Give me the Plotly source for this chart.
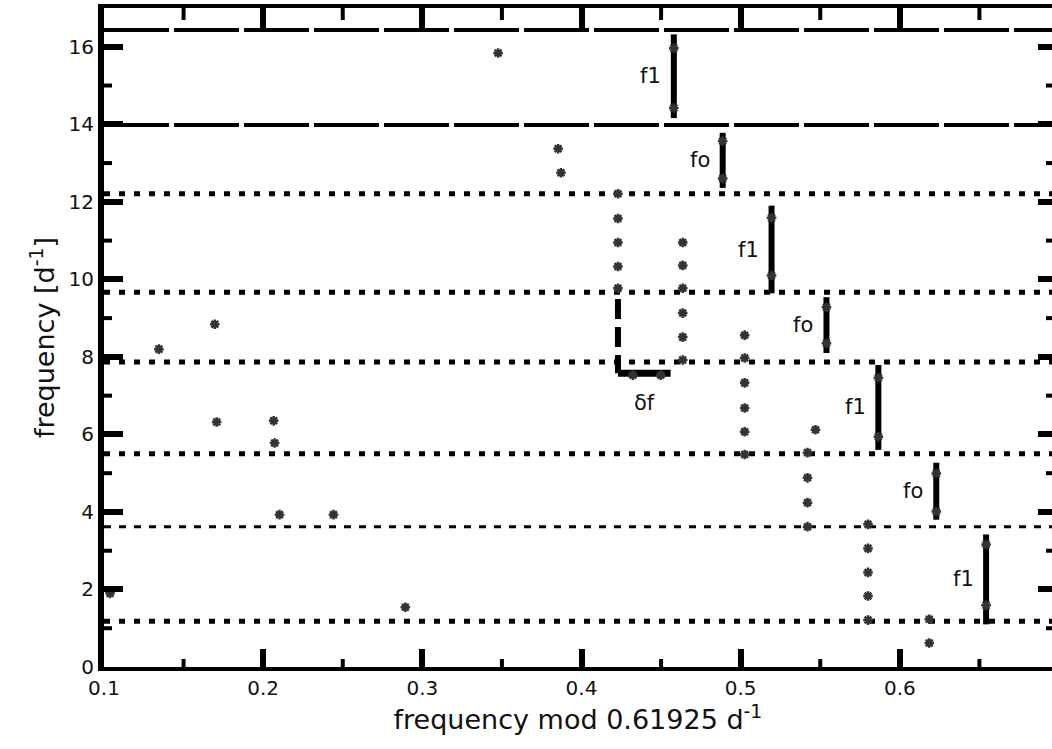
import plotly.graph_objects as go

# ---------------- data ----------------
point_x = [0.1038, 0.1345, 0.1696, 0.1708, 0.2066, 0.2072, 0.2103, 0.2442, 0.2893,
           0.3476, 0.3853, 0.3871,
           0.4229, 0.4229, 0.4229, 0.4229, 0.4229,
           0.4323, 0.4498,
           0.4636, 0.4636, 0.4636, 0.4636, 0.4636, 0.4636,
           0.5025, 0.5025, 0.5025, 0.5025, 0.5025, 0.5025,
           0.5420, 0.5420, 0.5420, 0.5420, 0.5470,
           0.5800, 0.5800, 0.5800, 0.5800, 0.5800,
           0.6185, 0.6185,
           0.4580, 0.4580, 0.4887, 0.4887, 0.5194, 0.5194, 0.5539, 0.5539,
           0.5865, 0.5865, 0.6229, 0.6229, 0.6542, 0.6542]
point_y = [1.90, 8.20, 8.84, 6.32, 6.35, 5.78, 3.93, 3.93, 1.54,
           15.84, 13.37, 12.75,
           12.21, 11.57, 10.95, 10.33, 9.77,
           7.53, 7.53,
           10.95, 10.36, 9.77, 9.13, 8.51, 7.92,
           8.56, 7.97, 7.33, 6.68, 6.07, 5.48,
           5.53, 4.88, 4.24, 3.62, 6.12,
           3.68, 3.06, 2.44, 1.83, 1.21,
           1.23, 0.62,
           15.96, 14.42, 13.57, 12.60, 11.59, 10.10, 9.28, 8.35,
           7.46, 5.94, 4.99, 4.01, 3.16, 1.59]

# horizontal reference lines
hline_y = [1.18, 3.62, 5.50, 7.87, 9.67, 12.21, 13.98, 16.43]
hline_kind = ["dot", "dash", "dot", "dot", "dot", "dot", "long", "long"]

# arrows (spacings f1 / fo)
arrow_x = [0.4580, 0.4887, 0.5194, 0.5539, 0.5865, 0.6229, 0.6542]
arrow_lo = [14.16, 12.36, 9.64, 8.10, 5.60, 3.80, 1.10]
arrow_hi = [16.32, 13.78, 11.90, 9.54, 7.79, 5.27, 3.42]
arrow_label = ["f1", "fo", "f1", "fo", "f1", "fo", "f1"]

# delta-f bracket
bracket_x0, bracket_x1 = 0.4229, 0.4560
bracket_top, bracket_y = 9.49, 7.58
bracket_label = "δf"

x_major = [0.1, 0.2, 0.3, 0.4, 0.5, 0.6]
x_minor = [0.15, 0.25, 0.35, 0.45, 0.55, 0.65]
y_major = [0, 2, 4, 6, 8, 10, 12, 14, 16]
y_minor = [1, 3, 5, 7, 9, 11, 13, 15]

FONT = "DejaVu Sans"
INK = "#111111"

W, H = 1052, 749
ML, MR, MT, MB = 104, 0, 8, 82
XR = [0.1, 0.6956]
YR = [0, 17.0]
# pixel -> data conversion for minor tick lengths
px_x = (XR[1] - XR[0]) / (W - ML - MR)
px_y = (YR[1] - YR[0]) / (H - MT - MB)

fig = go.Figure()

# arrows
for xa, lo, hi in zip(arrow_x, arrow_lo, arrow_hi):
    fig.add_trace(go.Scatter(x=[xa, xa], y=[lo, hi], mode="lines",
                             line=dict(color="black", width=6),
                             showlegend=False, hoverinfo="skip"))

# bracket
fig.add_trace(go.Scatter(x=[bracket_x0, bracket_x0], y=[bracket_top, bracket_y],
                         mode="lines", line=dict(color="black", width=6, dash="20px,8px"),
                         showlegend=False, hoverinfo="skip"))
fig.add_trace(go.Scatter(x=[bracket_x0, bracket_x1], y=[bracket_y, bracket_y],
                         mode="lines", line=dict(color="black", width=7),
                         showlegend=False, hoverinfo="skip"))

# points
fig.add_trace(go.Scatter(x=point_x, y=point_y, mode="markers",
                         marker=dict(symbol="asterisk-open", size=8, color="#333333",
                                     line=dict(color="#333333", width=2.5)),
                         showlegend=False))

# dummy trace to activate top/right axes
fig.add_trace(go.Scatter(x=[0.1], y=[0], xaxis="x2", yaxis="y2", mode="markers",
                         marker=dict(opacity=0), showlegend=False, hoverinfo="skip"))

# horizontal lines
styles = {"dot": dict(width=5, dash="6px,9px"),
          "dash": dict(width=3, dash="7px,8px"),
          "long": dict(width=4, dash="65px,5px")}
for yv, kind in zip(hline_y, hline_kind):
    fig.add_shape(type="line", xref="x domain", yref="y", x0=0, x1=1, y0=yv, y1=yv,
                  line=dict(color="black", **styles[kind]), layer="below")

# minor ticks (drawn on the data scales)
for v in x_minor:
    fig.add_shape(type="line", xref="x", yref="y", x0=v, x1=v,
                  y0=YR[0], y1=YR[0] + 8 * px_y, line=dict(color="black", width=4))
    fig.add_shape(type="line", xref="x", yref="y", x0=v, x1=v,
                  y0=YR[1], y1=YR[1] - 12 * px_y, line=dict(color="black", width=4))
for v in y_minor:
    fig.add_shape(type="line", xref="x", yref="y", y0=v, y1=v,
                  x0=XR[0], x1=XR[0] + 8 * px_x, line=dict(color="black", width=4))
    fig.add_shape(type="line", xref="x", yref="y", y0=v, y1=v,
                  x0=XR[1], x1=XR[1] - 6 * px_x, line=dict(color="black", width=4))

# labels
for xa, lo, hi, lab in zip(arrow_x, arrow_lo, arrow_hi, arrow_label):
    fig.add_annotation(x=xa, y=(lo + hi) / 2, text=lab, showarrow=False,
                       xshift=-23, font=dict(family=FONT, size=21, color=INK))
fig.add_annotation(x=(bracket_x0 + bracket_x1) / 2, y=bracket_y, text=bracket_label,
                   showarrow=False, yshift=-30, font=dict(family=FONT, size=21, color=INK))

fig.update_layout(
    width=W, height=H,
    margin=dict(l=ML, r=MR, t=MT, b=MB),
    paper_bgcolor="white", plot_bgcolor="white",
    font=dict(family=FONT, color=INK),
    xaxis=dict(range=XR, tickmode="array", tickvals=x_major,
               ticktext=[f"{v:.1f}" for v in x_major],
               ticks="inside", ticklen=18, tickwidth=6, tickcolor="black",
               showline=True, linewidth=4, linecolor="black",
               showgrid=False, zeroline=False,
               tickfont=dict(family=FONT, size=20, color=INK),
               title=dict(text="frequency mod 0.61925 d<sup>-1</sup>",
                          font=dict(family=FONT, size=27, color=INK), standoff=12)),
    yaxis=dict(range=YR, tickmode="array", tickvals=y_major,
               ticks="inside", ticklen=19, tickwidth=6, tickcolor="black",
               showline=True, linewidth=6, linecolor="black",
               showgrid=False, zeroline=False,
               tickfont=dict(family=FONT, size=20, color=INK),
               title=dict(text="frequency [d<sup>-1</sup>]",
                          font=dict(family=FONT, size=27, color=INK), standoff=8)),
    xaxis2=dict(range=XR, overlaying="x", side="top", anchor="y2",
                tickmode="array", tickvals=x_major, showticklabels=False,
                ticks="inside", ticklen=20, tickwidth=6, tickcolor="black",
                showline=True, linewidth=4, linecolor="black",
                showgrid=False, zeroline=False),
    yaxis2=dict(range=YR, overlaying="y", side="right", anchor="x2",
                tickmode="array", tickvals=y_major, showticklabels=False,
                ticks="inside", ticklen=14, tickwidth=6, tickcolor="black",
                showline=False, showgrid=False, zeroline=False),
)

fig.write_html("out.html")
